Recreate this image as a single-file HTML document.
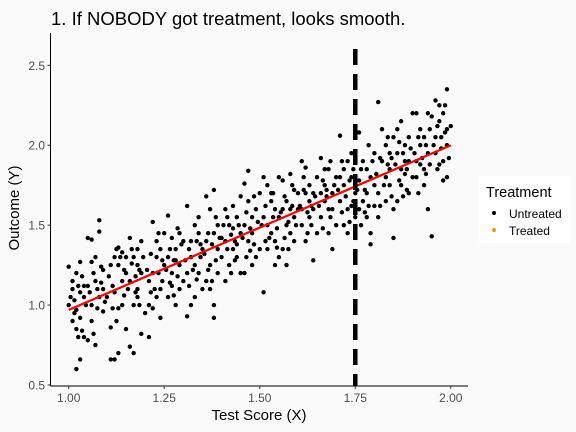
<!DOCTYPE html>
<html><head><meta charset="utf-8"><style>
body{margin:0;background:#fafafa;}
svg{display:block;font-family:"Liberation Sans",sans-serif;}
</style></head><body>
<svg id="chart" width="576" height="432">
<rect width="576" height="432" fill="#fafafa"/>
<text x="51" y="25" font-size="18.5" fill="#000">1. If NOBODY got treatment, looks smooth.</text>
<g id="points"></g>
<g id="axes"></g>
<text x="259" y="420" font-size="15" text-anchor="middle" fill="#000">Test Score (X)</text>
<text transform="translate(19,208) rotate(-90)" font-size="15" text-anchor="middle" fill="#000">Outcome (Y)</text>
<g>
<rect x="479" y="176" width="91" height="67" fill="#fff"/>
<text x="486" y="197" font-size="14.5" fill="#000">Treatment</text>
<circle cx="494" cy="213" r="2" fill="#000"/>
<text x="509" y="218" font-size="12" fill="#000">Untreated</text>
<circle cx="494" cy="230" r="2" fill="#e69f00"/>
<text x="509" y="235" font-size="12" fill="#000">Treated</text>
</g>
</svg>
<script>
const xTicks=[1.00,1.25,1.50,1.75,2.00];
const xTickLabels=["1.00","1.25","1.50","1.75","2.00"];
const yTicks=[0.5,1.0,1.5,2.0,2.5];
const yTickLabels=["0.5","1.0","1.5","2.0","2.5"];
const cutoff=1.75;
const fitStart=[1.0,0.97];
const fitEnd=[2.0,2.0];
const points=[[1.00,1.24],[1.01,0.9],[1.01,1.1],[1.02,0.6],[1.02,0.85],[1.03,1.27],[1.03,0.66],[1.04,1.05],[1.04,0.8],[1.01,1.15],[1.02,0.97],[1.03,0.92],[1.04,1.12],[1.05,1.42],[1.05,0.78],[1.02,1.2],[1.00,1.0],[1.03,1.08],
[1.06,1.27],[1.07,0.75],[1.08,1.53],[1.08,1.46],[1.06,1.0],[1.07,1.15],[1.09,1.22],[1.06,0.9],[1.08,1.05],[1.09,0.96],[1.07,1.3],[1.05,1.12],[1.09,1.1],[1.06,1.41],
[1.11,0.66],[1.12,0.66],[1.13,0.7],[1.11,0.86],[1.12,1.3],[1.13,1.36],[1.14,1.0],[1.15,1.2],[1.12,1.08],[1.14,1.33],[1.11,1.25],[1.13,0.98],[1.14,1.15],[1.10,1.05],[1.15,0.85],[1.13,1.25],
[1.16,1.42],[1.17,1.3],[1.18,1.05],[1.19,0.82],[1.16,0.74],[1.17,0.7],[1.18,1.25],[1.19,1.4],[1.16,1.15],[1.17,1.0],[1.18,1.35],[1.19,1.2],[1.15,1.3],[1.20,0.95],[1.18,1.1],
[1.21,0.8],[1.22,1.52],[1.23,1.3],[1.24,1.1],[1.21,1.0],[1.22,1.2],[1.23,1.4],[1.24,0.92],[1.25,1.25],[1.21,1.15],[1.23,1.05],[1.24,1.35],[1.22,0.98],[1.25,1.45],
[1.26,1.56],[1.27,1.2],[1.28,1.35],[1.29,1.1],[1.26,1.05],[1.27,1.42],[1.28,1.28],[1.29,1.45],[1.30,1.15],[1.26,1.3],[1.28,1.0],[1.29,1.25],[1.27,1.12],[1.30,1.4],
[1.31,0.93],[1.31,1.62],[1.32,1.3],[1.33,1.5],[1.34,1.2],[1.35,1.1],[1.32,1.4],[1.33,1.25],[1.34,1.45],[1.35,1.35],[1.31,1.2],[1.33,1.05],[1.34,1.55],[1.32,1.0],
[1.36,1.68],[1.37,1.6],[1.38,1.72],[1.38,1.0],[1.38,0.92],[1.39,1.35],[1.36,1.4],[1.37,1.25],[1.38,1.45],[1.39,1.5],[1.40,1.3],[1.36,1.15],[1.37,1.1],[1.39,1.2],[1.40,1.42],
[1.41,1.15],[1.42,1.5],[1.43,1.62],[1.44,1.3],[1.45,1.45],[1.41,1.4],[1.42,1.25],[1.43,1.35],[1.44,1.55],[1.45,1.2],[1.41,1.6],[1.43,1.48],[1.44,1.38],[1.45,1.68],
[1.46,1.76],[1.47,1.84],[1.46,1.2],[1.47,1.4],[1.48,1.55],[1.49,1.3],[1.50,1.7],[1.46,1.5],[1.48,1.45],[1.49,1.6],[1.50,1.35],[1.51,1.08],[1.47,1.65],[1.48,1.25],
[1.51,1.8],[1.52,1.75],[1.53,1.45],[1.54,1.6],[1.55,1.3],[1.52,1.5],[1.53,1.65],[1.54,1.4],[1.55,1.55],[1.51,1.55],[1.52,1.35],[1.53,1.7],[1.54,1.25],[1.55,1.8],
[1.56,1.78],[1.57,1.65],[1.58,1.45],[1.59,1.55],[1.60,1.7],[1.56,1.35],[1.57,1.5],[1.58,1.82],[1.59,1.4],[1.60,1.6],[1.57,1.25],[1.58,1.6],[1.59,1.72],[1.56,1.6],
[1.61,1.9],[1.62,1.86],[1.63,1.55],[1.64,1.7],[1.65,1.45],[1.61,1.6],[1.62,1.4],[1.63,1.75],[1.64,1.28],[1.65,1.8],[1.61,1.5],[1.63,1.65],[1.64,1.6],[1.62,1.7],
[1.66,1.92],[1.67,1.75],[1.68,1.6],[1.69,1.35],[1.70,1.8],[1.66,1.55],[1.67,1.65],[1.68,1.85],[1.69,1.7],[1.70,1.5],[1.66,1.7],[1.68,1.45],[1.69,1.6],[1.67,1.85],
[1.71,2.06],[1.72,1.85],[1.73,1.45],[1.74,1.95],[1.75,1.7],[1.71,1.65],[1.72,1.75],[1.73,1.6],[1.74,1.8],[1.75,1.55],[1.71,1.8],[1.73,1.9],[1.74,1.62],[1.72,1.5],[1.75,1.42],
[1.76,2.08],[1.77,1.65],[1.78,1.85],[1.79,1.45],[1.80,1.75],[1.76,1.6],[1.77,1.9],[1.78,1.7],[1.79,1.8],[1.80,1.95],[1.76,1.78],[1.78,1.55],[1.79,1.38],[1.80,1.62],
[1.81,2.27],[1.82,2.1],[1.83,1.8],[1.84,1.95],[1.85,1.6],[1.81,1.7],[1.82,1.9],[1.83,1.65],[1.84,1.85],[1.85,2.05],[1.81,1.55],[1.83,2.0],[1.84,1.75],[1.85,1.42],
[1.86,2.1],[1.87,1.85],[1.88,2.0],[1.89,1.7],[1.90,2.2],[1.86,1.95],[1.87,1.75],[1.88,1.9],[1.89,2.05],[1.90,1.8],[1.86,1.65],[1.88,1.82],[1.89,1.9],[1.87,2.15],
[1.91,2.2],[1.92,2.0],[1.93,1.85],[1.94,1.6],[1.95,1.43],[1.91,1.9],[1.92,2.1],[1.93,2.05],[1.94,1.95],[1.95,2.18],[1.91,1.8],[1.93,1.75],[1.94,2.2],[1.92,1.88],
[1.96,2.28],[1.97,2.15],[1.98,1.9],[1.99,2.35],[1.99,1.8],[1.96,2.05],[1.97,1.88],[1.98,2.2],[1.99,2.1],[2.00,2.12],[1.96,1.95],[1.98,1.78],[1.99,2.0],[1.97,2.25]];
const morePoints=[[1.005,1.05],[1.015,0.95],[1.025,1.12],[1.035,0.84],[1.045,1.0],[1.015,1.03],[1.035,1.18],[1.025,0.8],
[1.055,1.08],[1.065,1.2],[1.075,0.98],[1.085,1.14],[1.095,1.02],[1.065,0.82],[1.085,1.24],[1.075,1.1],
[1.105,1.18],[1.115,1.12],[1.125,0.9],[1.135,1.3],[1.145,1.06],[1.125,1.35],[1.145,1.22],[1.115,0.98],
[1.155,1.1],[1.165,1.26],[1.175,1.18],[1.185,1.0],[1.195,1.3],[1.165,1.35],[1.185,1.22],[1.175,1.08],
[1.205,1.22],[1.215,1.32],[1.225,1.1],[1.235,1.2],[1.245,1.28],[1.215,1.08],[1.235,1.45],[1.245,1.15],
[1.255,1.22],[1.265,1.35],[1.275,1.28],[1.285,1.18],[1.295,1.38],[1.265,1.14],[1.285,1.48],[1.275,1.06],
[1.305,1.28],[1.315,1.35],[1.325,1.22],[1.335,1.4],[1.345,1.3],[1.315,1.12],[1.335,1.16],[1.345,1.38],
[1.355,1.32],[1.365,1.45],[1.375,1.38],[1.385,1.28],[1.395,1.42],[1.365,1.22],[1.385,1.55],[1.375,1.15],
[1.405,1.5],[1.415,1.35],[1.425,1.44],[1.435,1.28],[1.445,1.5],[1.415,1.55],[1.435,1.4],[1.425,1.2],
[1.455,1.42],[1.465,1.58],[1.475,1.48],[1.485,1.38],[1.495,1.52],[1.465,1.3],[1.485,1.68],[1.475,1.34],
[1.505,1.5],[1.515,1.62],[1.525,1.42],[1.535,1.55],[1.545,1.48],[1.515,1.4],[1.535,1.7],[1.545,1.36],
[1.555,1.58],[1.565,1.68],[1.575,1.52],[1.585,1.62],[1.595,1.5],[1.565,1.42],[1.585,1.75],[1.575,1.35],
[1.605,1.62],[1.615,1.72],[1.625,1.58],[1.635,1.5],[1.645,1.68],[1.615,1.8],[1.635,1.62],[1.625,1.45],
[1.655,1.62],[1.665,1.78],[1.675,1.68],[1.685,1.55],[1.695,1.75],[1.665,1.48],[1.685,1.9],[1.675,1.72],
[1.705,1.72],[1.715,1.58],[1.725,1.68],[1.735,1.78],[1.745,1.65],[1.715,1.9],[1.735,1.52],[1.745,1.85],
[1.755,1.72],[1.765,1.85],[1.775,1.72],[1.785,1.62],[1.795,1.9],[1.765,1.5],[1.785,2.0],[1.775,1.58],
[1.805,1.82],[1.815,1.92],[1.825,1.75],[1.835,1.88],[1.845,1.68],[1.815,1.62],[1.835,2.05],[1.845,1.92],
[1.855,1.88],[1.865,1.78],[1.875,1.95],[1.885,1.85],[1.895,1.98],[1.865,2.02],[1.885,1.72],[1.875,1.68],
[1.905,1.95],[1.915,2.05],[1.925,1.92],[1.935,1.82],[1.945,2.1],[1.915,1.7],[1.935,2.0],[1.945,1.88],
[1.955,2.0],[1.965,2.12],[1.975,1.98],[1.985,2.08],[1.995,1.92],[1.965,1.85],[1.985,2.25],[1.975,2.05]];

const NS="http://www.w3.org/2000/svg";
const X0=68.7,X1=450.8,Y0=385,Y1=65.3;
const sx=v=>X0+(v-1)*(X1-X0);
const sy=v=>Y0-(v-0.5)/2*(Y0-Y1);
function mk(tag,attrs,parent){const e=document.createElementNS(NS,tag);for(const k in attrs)e.setAttribute(k,attrs[k]);parent.appendChild(e);return e;}
const pg=document.getElementById('points');
points.concat(morePoints).forEach(p=>{
  const c=mk('circle',{cx:sx(p[0]),cy:sy(p[1]),r:2.2,fill:'#000'},pg);
  
  
});
const ax=document.getElementById('axes');
const fit=mk('line',{x1:sx(fitStart[0]),y1:sy(fitStart[1]),x2:sx(fitEnd[0]),y2:sy(fitEnd[1]),stroke:'#ff0000','stroke-width':2.2},ax);


const cut=mk('line',{x1:sx(cutoff),y1:49,x2:sx(cutoff),y2:386,stroke:'#000','stroke-width':4.5,'stroke-dasharray':'16,9'},ax);


const xl=mk('line',{x1:50.5,y1:386,x2:468,y2:386,stroke:'#000','stroke-width':1},ax);


const yl=mk('line',{x1:50.5,y1:33,x2:50.5,y2:386,stroke:'#000','stroke-width':1},ax);


xTicks.forEach((t,i)=>{
  mk('line',{x1:sx(t),y1:386,x2:sx(t),y2:389,stroke:'#333'},ax);
  const tx=mk('text',{x:sx(t),y:402,'font-size':12,'text-anchor':'middle',fill:'#4d4d4d'},ax);
  tx.textContent=xTickLabels[i];
  
  
});
yTicks.forEach((t,i)=>{
  mk('line',{x1:47.5,y1:sy(t),x2:50.5,y2:sy(t),stroke:'#333'},ax);
  const tx=mk('text',{x:45,y:sy(t)+4.5,'font-size':12,'text-anchor':'end',fill:'#4d4d4d'},ax);
  tx.textContent=yTickLabels[i];
  
  
});
</script>
</body></html>
